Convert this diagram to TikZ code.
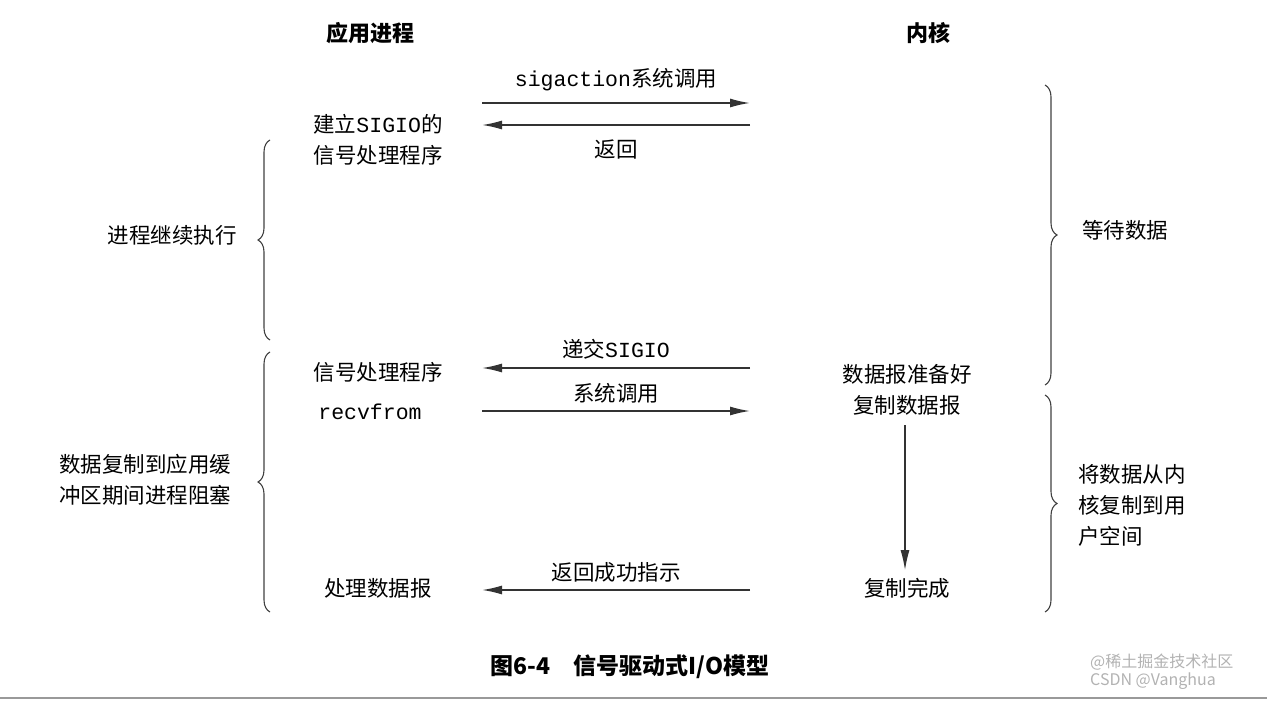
\documentclass[tikz,border=0pt]{standalone}
\usepackage{fontspec}
\setmainfont{Noto Sans CJK SC}
\setmonofont{Liberation Mono}
\usetikzlibrary{decorations.pathreplacing,arrows.meta}
\begin{document}
\begin{tikzpicture}[x=1pt,y=-1pt,
  every node/.style={font=\fontsize{21.5}{31}\selectfont, inner sep=0pt},
  hd/.style={font=\fontsize{22}{30}\selectfont\bfseries},
  arr/.style={-{Latex[length=20pt,width=9pt]}, line width=1.6pt, draw=black!80},
  br/.style={decorate, decoration={brace, amplitude=12pt}, line width=1.1pt, draw=black!75}]
\useasboundingbox (0,0) rectangle (1267,703);
\draw[black!40, line width=1.5pt] (0,698) -- (1267,698);
\node[hd] (h1) at (370,33) {应用进程};
\node[hd] (h2) at (928,33) {内核};
\coordinate (a1l) at (482,103); \coordinate (a1r) at (750,103);
\draw[arr] (a1l) -- (a1r) node[midway, above=11pt] {{\ttfamily sigaction}系统调用};
\coordinate (a2l) at (482,125); \coordinate (a2r) at (750,125);
\draw[arr] (a2r) -- (a2l) node[midway, below=14pt] {返回};
\node[align=center] (n1) at (378,140) {建立{\ttfamily SIGIO}的\\信号处理程序};
\draw[br] (270,340) -- (270,140);
\node (l1) at (172,235) {进程继续执行};
\draw[br] (1045,85) -- (1045,385);
\node (r1) at (1125,230) {等待数据};
\node (n2) at (378,372) {信号处理程序};
\coordinate (a3l) at (482,368); \coordinate (a3r) at (750,368);
\draw[arr] (a3r) -- (a3l) node[midway, above=8pt] {递交{\ttfamily SIGIO}};
\node (n3) at (370,412) {\ttfamily recvfrom};
\coordinate (a4l) at (482,411); \coordinate (a4r) at (750,411);
\draw[arr] (a4l) -- (a4r) node[midway, above=7pt] {系统调用};
\node[align=center] (k1) at (907,390) {数据报准备好\\复制数据报};
\node (k2) at (907,588) {复制完成};
\coordinate (vt) at (905,425); \coordinate (vb) at (905,570);
\draw[arr, line width=1.1pt] (vt) -- (vb);
\coordinate (a5l) at (482,590); \coordinate (a5r) at (750,590);
\draw[arr] (a5r) -- (a5l) node[midway, above=7pt] {返回成功指示};
\node (n4) at (378,588) {处理数据报};
\draw[br] (270,612) -- (270,352);
\node[align=left] (l2) at (145,480) {数据复制到应用缓\\冲区期间进程阻塞};
\draw[br] (1045,395) -- (1045,612);
\node[align=left, anchor=west] (r2) at (1078,505) {将数据从内\\核复制到用\\户空间};
\node[font=\fontsize{23}{26}\selectfont\bfseries] (cap) at (630,667) {图6-4\quad 信号驱动式I/O模型};
\node[align=left, anchor=west, text=black!30, font=\fontsize{16}{18}\selectfont] (wm) at (1090,672) {@稀土掘金技术社区\\CSDN @Vanghua};
\end{tikzpicture}
\end{document}
